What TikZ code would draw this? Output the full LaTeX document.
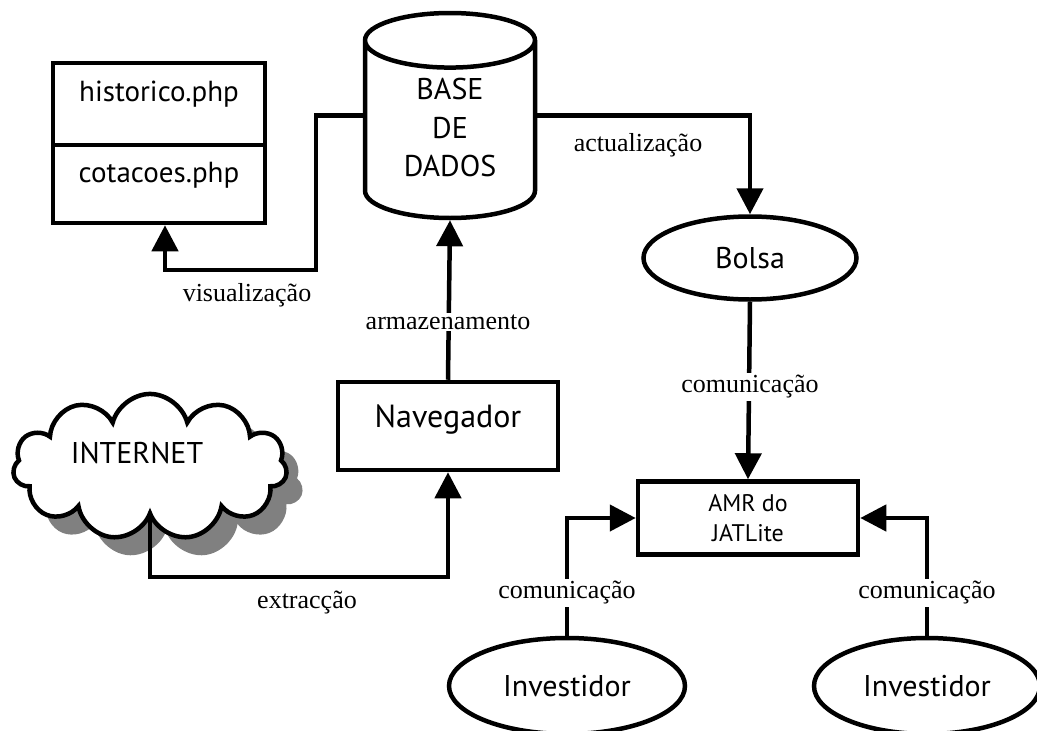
\documentclass[tikz,border=0pt]{standalone}
\usepackage{fontspec}
\setmainfont{Liberation Serif}
\setsansfont{PT Sans}
\usetikzlibrary{shapes.geometric,shapes.symbols,shadows,arrows.meta}
\begin{document}
\begin{tikzpicture}[x=1pt,y=-1pt,line width=4.5pt,
	box/.style={draw, rectangle, inner sep=0pt, font=\sffamily\fontsize{29}{35}\selectfont},
	blob/.style={draw, ellipse, inner sep=0pt, font=\sffamily\fontsize{30}{36}\selectfont},
	flow/.style={-{Triangle[length=26pt,width=26pt]}},
	lbl/.style={fill=white, inner sep=2pt, font=\fontsize{26}{30}\selectfont}]
	\useasboundingbox (0,0) rectangle (1037,731);
	\node (hist) at (159,104)	[box, minimum width=212pt, minimum height=82pt, text depth=26pt]	{historico.php};
	\node (cot)  at (159,184)	[box, minimum width=212pt, minimum height=78pt, text depth=24pt]	{cotacoes.php};
	\node (db)   at (450,115.5)	[draw, cylinder, shape border rotate=90, aspect=0.59, anchor=shape center, minimum width=170pt, minimum height=205pt, inner sep=0pt, align=center, font=\sffamily\fontsize{30}{38.5}\selectfont]	{BASE\\DE\\DADOS\rule[-5pt]{0pt}{5pt}};
	\node (bolsa) at (750,258)	[blob, minimum width=213pt, minimum height=83pt]	{Bolsa};
	\node (nav)  at (448,426)	[box, minimum width=220pt, minimum height=88pt, text depth=20pt, font=\sffamily\fontsize{32}{38}\selectfont]	{Navegador};
	\node (inet) at (150,467)	[draw, cloud, cloud puffs=11, aspect=2.2, fill=white, minimum width=274pt, minimum height=121pt, inner sep=0pt, drop shadow={shadow xshift=16pt, shadow yshift=-18pt, fill=gray, opacity=1}, font=\sffamily\fontsize{30}{36}\selectfont]	{INTERNET\hspace*{26pt}\rule[-28pt]{0pt}{28pt}};
	\node (amr)  at (748,518)	[box, minimum width=220pt, minimum height=73pt, align=center, font=\sffamily\fontsize{24}{30}\selectfont]	{AMR do\\JATLite};
	\node (inv1) at (567,686)	[blob, minimum width=236pt, minimum height=96pt]	{Investidor};
	\node (inv2) at (927,686)	[blob, minimum width=226pt, minimum height=96pt]	{Investidor};
	\coordinate (c1) at (316,270);
	\coordinate (c2) at (448,577);
	% ligacoes
	\draw[flow] (db.west |- db.shape center) -| (c1) -| ([xshift=6pt]cot.south);
	\draw[flow] (db.east |- db.shape center) -| (bolsa.north);
	\draw[flow] (nav.north) -- (db.south);
	\draw[flow] (bolsa.south) -- (amr.north);
	\draw[flow] (inet.south) |- (c2) -- (nav.south);
	\draw[flow] (inv1.north) |- (amr.west);
	\draw[flow] (inv2.north) |- (amr.east);
	\node (l1) at (247,295)	[lbl]	{visualização};
	\node (l2) at (638,145)	[lbl]	{actualização};
	\node (l3) at (448,322)	[lbl]	{armazenamento};
	\node (l4) at (750,387)	[lbl]	{comunicação};
	\node (l5) at (307,603)	[lbl]	{extracção};
	\node (l6) at (567,593)	[lbl]	{comunicação};
	\node (l7) at (927,593)	[lbl]	{comunicação};
\end{tikzpicture}
\end{document}
